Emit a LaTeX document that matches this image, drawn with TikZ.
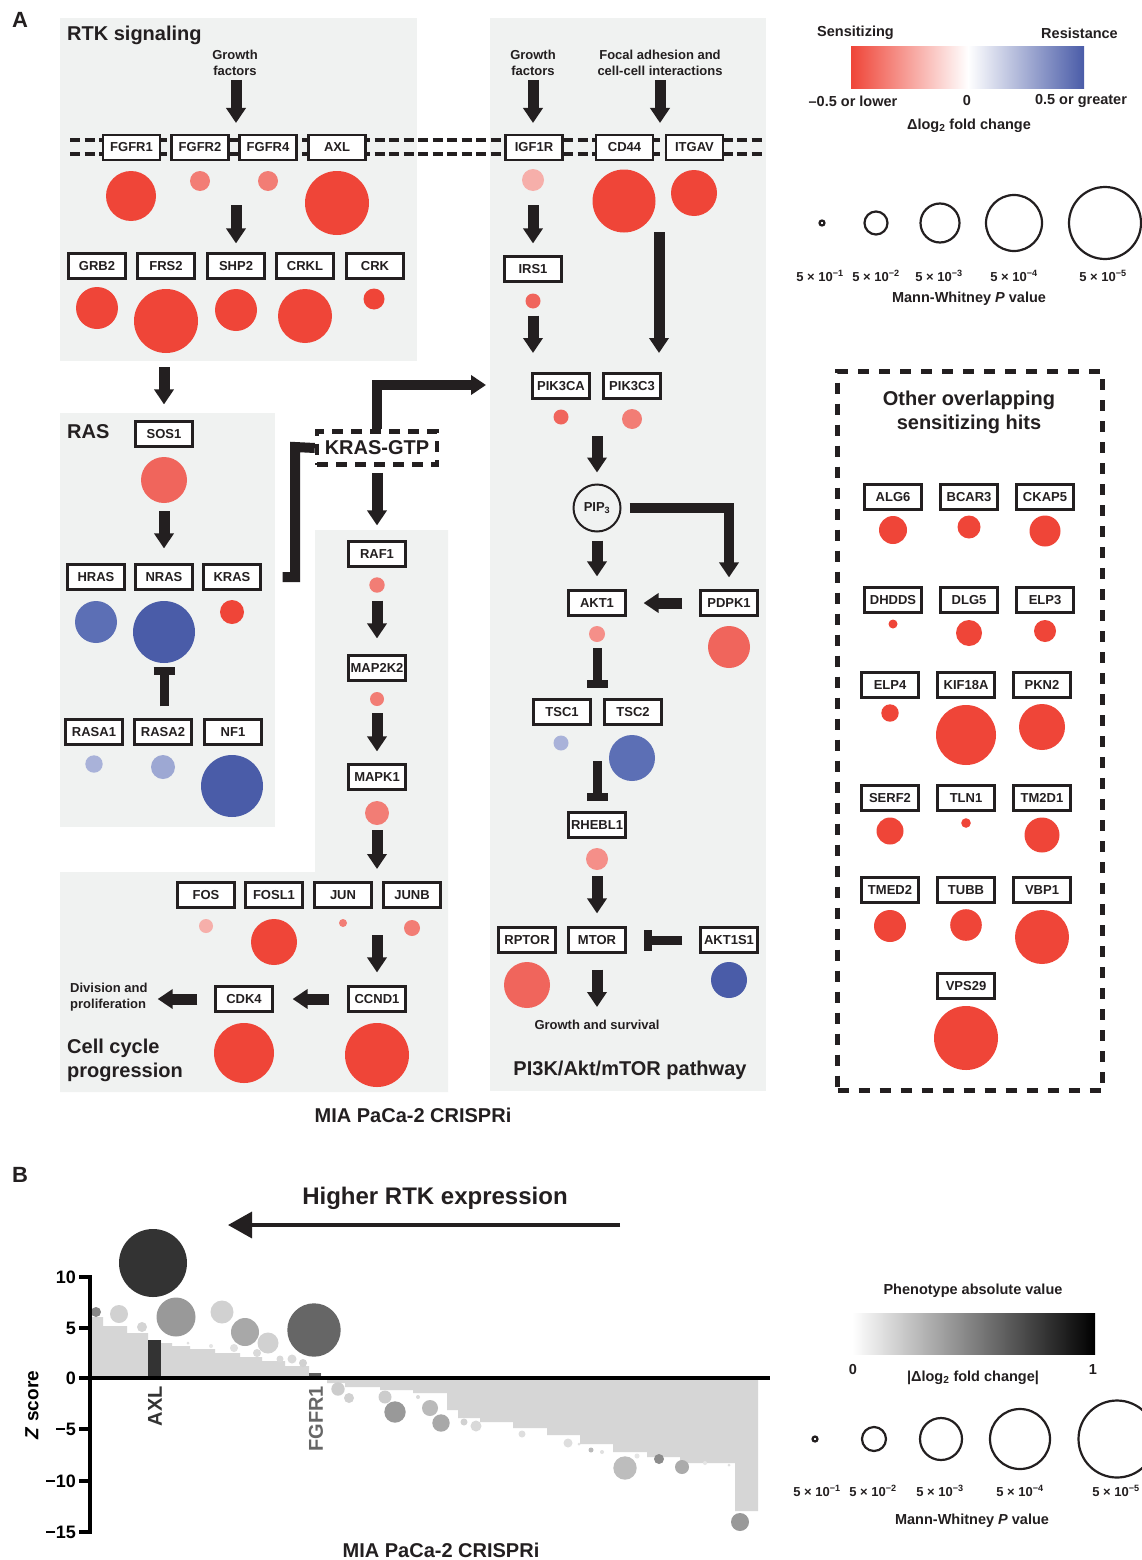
\documentclass[tikz,border=0pt]{standalone}
\usepackage{fontspec}
\setmainfont{Liberation Sans}
\usetikzlibrary{arrows.meta,calc}
\definecolor{rd}{HTML}{EF4538}
\definecolor{sal}{HTML}{F0655C}
\definecolor{sal2}{HTML}{F27D75}
\definecolor{pk}{HTML}{F58F89}
\definecolor{lpk}{HTML}{F6AFAA}
\definecolor{bl}{HTML}{4A5CA8}
\definecolor{bl2}{HTML}{5C6FB5}
\definecolor{bl3}{HTML}{9DA8D3}
\definecolor{bl4}{HTML}{A9B2D9}
\definecolor{bg}{HTML}{F0F2F1}
\definecolor{ink}{HTML}{231F20}
\definecolor{barg}{HTML}{D6D6D6}
\newcommand\fsz[1]{\fontsize{#1}{#1}\selectfont\bfseries}
\newcommand\mybub[5]{\node[bub,fill=#5,minimum size=#4pt*2] (#1) at (#2,#3) {};}
\newcommand\gene[4]{\node[gbox] (#1) at (#2,#3) {#4};}
\newcommand\pv[1]{5 × 10\textsuperscript{−#1}}
\begin{document}
\begin{tikzpicture}[x=1pt,y=-1pt,
  panel/.style={rectangle,fill=bg,draw=none,inner sep=0pt,outer sep=0pt,anchor=north west},
  gbox/.style={rectangle,draw=ink,line width=2.2pt,fill=white,minimum width=57pt,minimum height=25pt,inner sep=1pt,font=\fsz{13},text=ink},
  bub/.style={circle,inner sep=0pt,outer sep=0pt,draw=none},
  txt/.style={inner sep=0pt,font=\fsz{13},text=ink},
  darr/.style={draw=ink,line width=11pt,-{Triangle[width=19pt,length=15pt]}},
  inh/.style={draw=ink,line width=9pt,-{Bar[width=21pt,line width=8pt]}},
  brk/.style={draw=ink,line width=10pt},
  mem/.style={draw=ink,line width=4pt,dash pattern=on 10pt off 4.5pt},
  lc/.style={circle,draw=ink,line width=2.2pt,inner sep=0pt,fill=none},
  leg/.style={inner sep=0pt,font=\fsz{14.5},text=ink},
  pvl/.style={inner sep=0pt,font=\fsz{13},text=ink}
]
\useasboundingbox (0,0) rectangle (1141,1560);
\fill[white] (0,0) rectangle (1141,1560);

% ---------- panels ----------
\node[panel,minimum width=357pt,minimum height=343pt] (rtk) at (60,18) {};
\node[panel,minimum width=215pt,minimum height=414pt] (ras) at (60,413) {};
\fill[bg] (315,530) -- (448,530) -- (448,1092) -- (60,1092) -- (60,872) -- (315,872) -- cycle;
\node[panel,minimum width=276pt,minimum height=1073pt] (pi3k) at (490,18) {};

\node[txt,font=\fsz{22}] (lA) at (20,20) {A};
\node[txt,font=\fsz{20},anchor=base west] (trtk) at (67,41) {RTK signaling};
\node[txt,align=center,font=\fontsize{13}{16}\selectfont\bfseries] (gf1) at (235,63) {Growth\\factors};
\node[txt,align=center,font=\fontsize{13}{16}\selectfont\bfseries] (gf2) at (533,63) {Growth\\factors};
\node[txt,align=center,font=\fontsize{13}{16}\selectfont\bfseries] (gf3) at (660,63) {Focal adhesion and\\cell-cell interactions};

% ---------- membrane ----------
\draw[mem] (70,140) -- (765,140);
\draw[mem] (70,154) -- (765,154);

% ---------- RTK ----------
\gene{fgfr1}{131.5}{147.5}{FGFR1}
\gene{fgfr2}{200}{147.5}{FGFR2}
\gene{fgfr4}{268}{147.5}{FGFR4}
\gene{axl}{337}{147.5}{AXL}
\mybub{bfgfr1}{131}{196}{25}{rd}
\mybub{bfgfr2}{200}{181}{10}{sal2}
\mybub{bfgfr4}{268}{181}{10}{sal2}
\mybub{baxl}{337}{203}{32}{rd}
\gene{grb2}{97}{266}{GRB2}
\gene{frs2}{166}{266}{FRS2}
\gene{shp2}{236}{266}{SHP2}
\gene{crkl}{305}{266}{CRKL}
\gene{crk}{375}{266}{CRK}
\mybub{bgrb2}{97}{308}{21}{rd}
\mybub{bfrs2}{166}{321}{32}{rd}
\mybub{bshp2}{236}{310}{21}{rd}
\mybub{bcrkl}{305}{316}{27}{rd}
\mybub{bcrk}{374}{299}{10.5}{rd}
\coordinate (m1) at (236,123);
\coordinate (a2s) at (236,205);
\draw[darr,shorten <=4pt] (gf1.south -| m1) -- (m1);
\draw[darr,shorten >=9pt] (a2s) -- (shp2.north);

% ---------- RAS ----------
\node[txt,font=\fsz{20},anchor=base west] (tras) at (67,438) {RAS};
\gene{sos1}{164}{434}{SOS1}
\mybub{bsos1}{164}{480}{23}{sal}
\gene{hras}{96}{577}{HRAS}
\gene{nras}{164}{577}{NRAS}
\gene{kras}{232}{577}{KRAS}
\mybub{bhras}{96}{622}{21}{bl2}
\mybub{bnras}{164}{632}{31}{bl}
\mybub{bkras}{232}{612}{12}{rd}
\gene{rasa1}{94}{732}{RASA1}
\gene{rasa2}{163}{732}{RASA2}
\gene{nf1}{233}{732}{NF1}
\mybub{brasa1}{94}{764}{8.7}{bl4}
\mybub{brasa2}{163}{767}{12}{bl3}
\mybub{bnf1}{232}{786}{31}{bl}
\draw[darr,shorten <=6pt,shorten >=16pt] (rtk.south -| sos1.north) -- (sos1.north);
\draw[darr,shorten <=8pt,shorten >=15pt] (bsos1.south) -- (nras.north);
\draw[inh,shorten <=12pt,shorten >=4pt] (rasa2.north -| bnras) -- (bnras.south);

% ---------- KRAS-GTP ----------
\node[draw=ink,fill=white,line width=4.5pt,dash pattern=on 11pt off 8pt,minimum width=120pt,minimum height=33pt,inner sep=0pt,font=\fsz{20},text=ink] (kgtp) at (377,448) {KRAS-GTP};
\coordinate (kb) at (295,447);
\coordinate (kt) at (486,385);
\draw[brk] (kgtp.west) -- (kb) |- ([xshift=21pt]kras.east);
\draw[darr,line width=10pt] (kgtp.north) |- (kt);

% ---------- MAPK ----------
\gene{raf1}{377}{554}{RAF1}
\mybub{braf1}{377}{585}{7.7}{sal2}
\gene{map2k2}{377}{668}{MAP2K2}
\mybub{bmap2k2}{377}{699}{7}{sal2}
\gene{mapk1}{377}{777}{MAPK1}
\mybub{bmapk1}{377}{813}{12}{sal2}
\coordinate (mk) at (377,869);
\draw[darr,shorten <=6pt,shorten >=15pt] (kgtp.south) -- (raf1.north);
\draw[darr,shorten <=8pt,shorten >=16pt] (braf1.south) -- (map2k2.north);
\draw[darr,shorten <=7pt,shorten >=12pt] (bmap2k2.south) -- (mapk1.north);
\draw[darr,shorten <=5pt] (bmapk1.south) -- (mk);

% ---------- cell cycle ----------
\gene{fos}{206}{895}{FOS}
\gene{fosl1}{274}{895}{FOSL1}
\gene{jun}{343}{895}{JUN}
\gene{junb}{412}{895}{JUNB}
\mybub{bfos}{206}{926}{7}{lpk}
\mybub{bfosl1}{274}{942}{23}{rd}
\mybub{bjun}{343}{923}{4}{sal2}
\mybub{bjunb}{412}{928}{8}{sal2}
\gene{cdk4}{244}{999}{CDK4}
\gene{ccnd1}{377}{999}{CCND1}
\mybub{bcdk4}{244}{1053}{30}{rd}
\mybub{bccnd1}{377}{1055}{32}{rd}
\node[txt,align=left,anchor=west,font=\fontsize{13}{16}\selectfont\bfseries] (div) at (70,997) {Division and\\proliferation};
\node[txt,align=left,anchor=west,font=\fontsize{20}{24}\selectfont\bfseries] (tcc) at (67,1060) {Cell cycle\\progression};
\coordinate (cc) at (377,935);
\draw[darr,shorten >=13pt] (cc) -- (ccnd1.north);
\draw[darr,shorten <=18pt,shorten >=19pt] (ccnd1.west) -- (cdk4.east);
\draw[darr,shorten <=17pt,shorten >=10pt] (cdk4.west) -- (div.east |- cdk4.west);
\node[txt,font=\fsz{20}] (tmia) at (413,1115) {MIA PaCa-2 CRISPRi};

% ---------- PI3K ----------
\gene{igf1r}{534}{147.5}{IGF1R}
\gene{cd44}{624.5}{147.5}{CD44}
\gene{itgav}{694.5}{147.5}{ITGAV}
\mybub{bigf1r}{533}{180}{11}{lpk}
\mybub{bcd44}{624}{201}{31.5}{rd}
\mybub{bitgav}{694}{193}{23}{rd}
\coordinate (m2) at (533,123);
\coordinate (m3) at (660,123);
\draw[darr,shorten <=4pt] (gf2.south -| m2) -- (m2);
\draw[darr,shorten <=4pt] (gf3.south -| m3) -- (m3);
\gene{irs1}{533}{269}{IRS1}
\mybub{birs1}{533}{301}{7.5}{sal}
\draw[darr,shorten <=14pt,shorten >=12pt] (bigf1r.south) -- (irs1.north);
\coordinate (i2) at (533,353);
\draw[darr,shorten <=7pt] (birs1.south) -- (i2);
\coordinate (c1) at (659,232);
\coordinate (c2) at (659,353);
\draw[darr] (c1) -- (c2);
\gene{pik3ca}{561}{386}{PIK3CA}
\gene{pik3c3}{632}{386}{PIK3C3}
\mybub{bpik3ca}{561}{417}{7.5}{sal}
\mybub{bpik3c3}{632}{419}{10}{sal2}
\node[circle,draw=ink,line width=2pt,minimum size=47pt,inner sep=0pt,font=\fsz{13},text=ink] (pip3) at (597,508) {PIP\textsubscript{3}};
\coordinate (p1) at (597,436);
\draw[darr,shorten >=11pt] (p1) -- (pip3.north);
\gene{akt1}{597}{603}{AKT1}
\gene{pdpk1}{729}{603}{PDPK1}
\mybub{bakt1}{597}{634}{8}{pk}
\mybub{bpdpk1}{729}{647}{21}{sal}
\draw[darr,shorten <=8pt,shorten >=13pt] (pip3.south) -- (akt1.north);
\draw[darr,line width=10pt,shorten <=8pt,shorten >=12pt] (pip3.east) -| (pdpk1.north);
\draw[darr,shorten <=17pt,shorten >=17pt] (pdpk1.west) -- (akt1.east);
\gene{tsc1}{562}{712}{TSC1}
\gene{tsc2}{633}{712}{TSC2}
\mybub{btsc1}{561}{743}{7.5}{bl4}
\mybub{btsc2}{632}{758}{23}{bl2}
\coordinate (t1) at (597,688);
\draw[inh,shorten <=6pt] (bakt1.south) -- (t1);
\gene{rhebl1}{597}{825}{RHEBL1}
\mybub{brhebl1}{597}{859}{11}{pk}
\coordinate (t2) at (597,761);
\draw[inh,shorten >=10pt] (t2) -- (rhebl1.north);
\gene{rptor}{527}{940}{RPTOR}
\gene{mtor}{597}{940}{MTOR}
\gene{akt1s1}{729}{940}{AKT1S1}
\mybub{brptor}{527}{985}{23}{sal}
\mybub{bakt1s1}{729}{980}{18}{bl}
\draw[darr,shorten <=6pt,shorten >=13pt] (brhebl1.south) -- (mtor.north);
\draw[inh,shorten <=17pt,shorten >=17pt] (akt1s1.west) -- (mtor.east);
\coordinate (gs) at (597,1007);
\draw[darr,shorten <=16pt] (mtor.south) -- (gs);
\node[txt] (tgs) at (597,1025) {Growth and survival};
\node[txt,font=\fsz{20}] (tpath) at (630,1070) {PI3K/Akt/mTOR pathway};

% ---------- other hits ----------
\node[rectangle,draw=ink,line width=5pt,dash pattern=on 11pt off 10pt,minimum width=265pt,minimum height=719pt,inner sep=0pt,outer sep=0pt,anchor=north west] (oth) at (837.5,371.5) {};
\node[txt,align=center,font=\fontsize{20}{24}\selectfont\bfseries] (toth) at (969,412) {Other overlapping\\sensitizing hits};
\gene{alg6}{893}{497}{ALG6}
\gene{bcar3}{969}{497}{BCAR3}
\gene{ckap5}{1045}{497}{CKAP5}
\mybub{balg6}{893}{530}{14}{rd}
\mybub{bbcar3}{969}{527}{11.5}{rd}
\mybub{bckap5}{1045}{531}{15.5}{rd}
\gene{dhdds}{893}{600}{DHDDS}
\gene{dlg5}{969}{600}{DLG5}
\gene{elp3}{1045}{600}{ELP3}
\mybub{bdhdds}{893}{624}{4.5}{rd}
\mybub{bdlg5}{969}{633}{13}{rd}
\mybub{belp3}{1045}{631}{11}{rd}
\gene{elp4}{890}{685}{ELP4}
\gene{kif18a}{966}{685}{KIF18A}
\gene{pkn2}{1042}{685}{PKN2}
\mybub{belp4}{890}{713}{8.7}{rd}
\mybub{bkif18a}{966}{735}{30}{rd}
\mybub{bpkn2}{1042}{727}{23}{rd}
\gene{serf2}{890}{798}{SERF2}
\gene{tln1}{966}{798}{TLN1}
\gene{tm2d1}{1042}{798}{TM2D1}
\mybub{bserf2}{890}{831}{13.5}{rd}
\mybub{btln1}{966}{823}{4.8}{rd}
\mybub{btm2d1}{1042}{835}{17.5}{rd}
\gene{tmed2}{890}{890}{TMED2}
\gene{tubb}{966}{890}{TUBB}
\gene{vbp1}{1042}{890}{VBP1}
\mybub{btmed2}{890}{926}{16}{rd}
\mybub{btubb}{966}{925}{15.8}{rd}
\mybub{bvbp1}{1042}{937}{27}{rd}
\gene{vps29}{966}{986}{VPS29}
\mybub{bvps29}{966}{1038}{32}{rd}

% ---------- legend A ----------
\node[leg,anchor=west] (lsen) at (817,33) {Sensitizing};
\node[leg,anchor=east] (lres) at (1118,33) {Resistance};
\shade[left color=rd,right color=white] (851,47) rectangle (968,89);
\shade[left color=white,right color=bl] (968,47) rectangle (1084,89);
\node[leg] (l05a) at (853,101) {–0.5 or lower};
\node[leg] (l0a) at (967,101) {0};
\node[leg] (l05b) at (1081,101) {0.5 or greater};
\node[leg] (ldl) at (969,126) {Δlog\textsubscript{2} fold change};
\node[lc,minimum size=5pt] (lc1) at (822,223) {};
\node[lc,minimum size=23pt] (lc2) at (876,223) {};
\node[lc,minimum size=39pt] (lc3) at (940,223) {};
\node[lc,minimum size=56pt] (lc4) at (1014,223) {};
\node[lc,minimum size=72pt] (lc5) at (1105,223) {};
\node[pvl] (pa1) at (820,276) {\pv{1}};
\node[pvl] (pa2) at (876,276) {\pv{2}};
\node[pvl] (pa3) at (939,276) {\pv{3}};
\node[pvl] (pa4) at (1014,276) {\pv{4}};
\node[pvl] (pa5) at (1103,276) {\pv{5}};
\node[leg] (lmw) at (969,299) {Mann-Whitney \textit{P} value};

% ---------- panel B ----------
\node[txt,font=\fsz{22}] (lB) at (20,1175) {B};
\node[txt,font=\fsz{24}] (thi) at (435,1198) {Higher RTK expression};
\coordinate (hr) at (620,1225);
\coordinate (hl) at (228,1225);
\draw[draw=ink,line width=3.5pt,-{Triangle[width=26pt,length=24pt]}] (hr) -- (hl);

\fill[barg] (92,1378) -- (92,1317) -- (103,1317) -- (103,1326) -- (127,1326) -- (127,1333) -- (148,1333) -- (148,1340) -- (161,1340) -- (161,1343) -- (172,1343) -- (172,1346) -- (190,1346) -- (190,1349) -- (215,1349) -- (215,1353) -- (240,1353) -- (240,1357) -- (262,1357) -- (262,1361) -- (285,1361) -- (285,1366) -- (309,1366) -- (309,1373) -- (321,1373) -- (321,1376) -- (327,1376) -- (327,1378) -- cycle;
\fill[barg] (327,1378) -- (327,1383) -- (345,1383) -- (345,1387) -- (380,1387) -- (380,1390) -- (413,1390) -- (413,1393) -- (447,1393) -- (447,1410) -- (458,1410) -- (458,1418) -- (480,1418) -- (480,1422) -- (513,1422) -- (513,1428) -- (547,1428) -- (547,1435) -- (580,1435) -- (580,1444) -- (613,1444) -- (613,1452) -- (647,1452) -- (647,1457) -- (680,1457) -- (680,1463) -- (735,1463) -- (735,1511) -- (758,1511) -- (758,1378) -- cycle;
\fill[black!80] (148,1378) rectangle (161,1340);
\fill[black!62] (309,1378) rectangle (321,1373);

\mybub{g1}{96}{1312}{5}{black!47}
\mybub{g2}{119}{1314}{9}{black!18}
\mybub{g3}{142}{1327}{5}{black!17}
\mybub{g4}{153}{1263}{34}{black!80}
\mybub{g5}{176}{1317}{19.5}{black!40}
\mybub{g6}{188}{1343}{1.5}{black!12}
\mybub{g7}{211}{1346}{2}{black!10}
\mybub{g8}{222}{1312}{11.5}{black!18}
\mybub{g9}{234}{1348}{4}{black!12}
\mybub{g10}{245}{1332}{14}{black!34}
\mybub{g11}{257}{1353}{4}{black!15}
\mybub{g12}{268}{1343}{10.5}{black!18}
\mybub{g13}{280}{1359}{3.5}{black!15}
\mybub{g14}{292}{1359}{4.5}{black!15}
\mybub{g15}{303}{1363}{4}{black!18}
\mybub{g16}{314}{1330}{26.7}{black!60}
\mybub{g17}{338}{1389}{6.7}{black!20}
\mybub{g18}{349}{1398}{5}{black!18}
\mybub{g19}{385}{1397}{6.5}{black!20}
\mybub{g20}{395}{1412}{10.7}{black!40}
\mybub{g21}{418}{1397}{2}{black!15}
\mybub{g22}{430}{1408}{8}{black!27}
\mybub{g23}{441}{1423}{8.7}{black!34}
\mybub{g24}{464}{1422}{3.5}{black!18}
\mybub{g25}{476}{1426}{5.5}{black!15}
\mybub{g26}{522}{1434}{3.5}{black!13}
\mybub{g27}{568}{1443}{4.5}{black!13}
\mybub{g28}{579}{1444}{1.5}{black!12}
\mybub{g29}{591}{1450}{2.5}{black!27}
\mybub{g30}{602}{1452}{2}{black!12}
\mybub{g31}{625}{1468}{11.7}{black!26}
\mybub{g32}{637}{1456}{2.5}{black!10}
\mybub{g33}{659}{1459}{5}{black!45}
\mybub{g34}{682}{1467}{7}{black!33}
\mybub{g35}{705}{1463}{2}{black!10}
\mybub{g36}{729}{1465}{1.5}{black!12}
\mybub{g37}{740}{1522}{9}{black!40}

% axes
\coordinate (ax0) at (90,1275);
\coordinate (ax1) at (90,1534);
\draw[black,line width=4pt] (ax0) -- (ax1);
\draw[black,line width=4pt] (88,1378) -- (770,1378);
\foreach \yy/\lab in {1277/10,1328/5,1378/0,1429/−5,1481/−10,1532/−15}{
  \draw[black,line width=4pt] (79,\yy) -- (90,\yy);
  \node[txt,font=\fsz{18},text=black,anchor=east] at (76,\yy) {\lab};
}
\node[txt,font=\fsz{19},text=black,rotate=90] (tz) at (32,1405) {\textit{Z} score};
\node[txt,font=\fsz{20},text=black!80,rotate=90,anchor=east] (taxl) at (155,1386) {AXL};
\node[txt,font=\fsz{20},text=black!60,rotate=90,anchor=east] (tfg) at (316,1386) {FGFR1};
\node[txt,font=\fsz{20}] (tmia2) at (441,1550) {MIA PaCa-2 CRISPRi};

% legend B
\node[leg] (lph) at (973,1291) {Phenotype absolute value};
\shade[left color=white,right color=black] (852,1313) rectangle (1095,1354);
\node[leg] (lz0) at (853,1369) {0};
\node[leg] (lz1) at (1093,1369) {1};
\node[leg] (ldl2) at (973,1378) {|Δlog\textsubscript{2} fold change|};
\node[lc,minimum size=5pt] (lb1) at (815,1439) {};
\node[lc,minimum size=24pt] (lb2) at (874,1439) {};
\node[lc,minimum size=42pt] (lb3) at (941,1439) {};
\node[lc,minimum size=60pt] (lb4) at (1020,1439) {};
\node[lc,minimum size=77pt] (lb5) at (1117,1439) {};
\node[pvl] (pb1) at (817,1491) {\pv{1}};
\node[pvl] (pb2) at (873,1491) {\pv{2}};
\node[pvl] (pb3) at (940,1491) {\pv{3}};
\node[pvl] (pb4) at (1020,1491) {\pv{4}};
\node[pvl] (pb5) at (1116,1491) {\pv{5}};
\node[leg] (lmw2) at (972,1521) {Mann-Whitney \textit{P} value};
\end{tikzpicture}
\end{document}
